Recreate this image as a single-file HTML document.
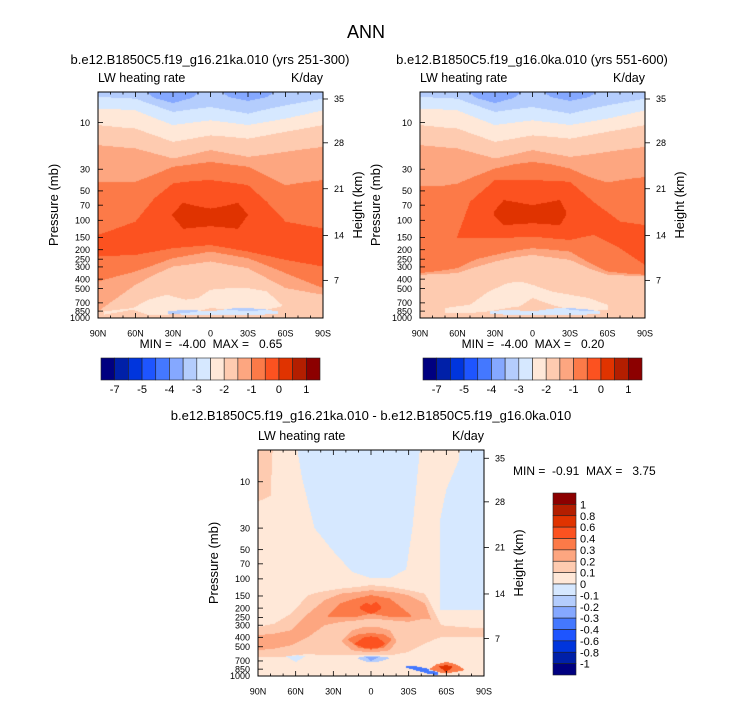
<!DOCTYPE html>
<html><head><meta charset="utf-8">
<style>
html,body{margin:0;padding:0;background:#fff;}
#wrap{position:relative;width:733px;height:701px;overflow:hidden;font-family:"Liberation Sans",Arial,sans-serif;}
canvas{position:absolute;}
svg{position:absolute;left:0;top:0;}
text{font-family:"Liberation Sans",Arial,sans-serif;fill:#000;}
</style></head>
<body>
<div id="wrap">
<canvas id="cTL" width="225" height="226" style="left:98px;top:92px"></canvas>
<canvas id="cTR" width="225" height="226" style="left:420px;top:92px"></canvas>
<canvas id="cB" width="226" height="226" style="left:258px;top:450px"></canvas>
<svg id="ov" width="733" height="701">
<text x="366" y="38" font-size="18" text-anchor="middle">ANN</text>
<text x="210" y="64" font-size="13" text-anchor="middle">b.e12.B1850C5.f19_g16.21ka.010 (yrs 251-300)</text>
<text x="532" y="64" font-size="13" text-anchor="middle">b.e12.B1850C5.f19_g16.0ka.010 (yrs 551-600)</text>
<text x="371" y="420" font-size="13" text-anchor="middle">b.e12.B1850C5.f19_g16.21ka.010 - b.e12.B1850C5.f19_g16.0ka.010</text>
<text x="211" y="348" font-size="12" text-anchor="middle" xml:space="preserve">MIN =  -4.00  MAX =   0.65</text>
<text x="533" y="348" font-size="12" text-anchor="middle" xml:space="preserve">MIN =  -4.00  MAX =   0.20</text>
<text x="513" y="475" font-size="12" xml:space="preserve">MIN =  -0.91  MAX =   3.75</text>
</svg>
</div>
<script>
const PAL = ['#000080','#0020a8','#0035dd','#1e55ff','#4478ff','#85a8ff','#b4cdfd','#d6e8ff','#ffe8d8','#fecbb0','#fda680','#fc7a48','#fc5220','#e03300','#b31e00','#8c0000'];
const latCols = [90,75,60,45,30,15,0,-15,-30,-45,-60,-75,-90];
const pressureTicks = [10,30,50,70,100,150,200,250,300,400,500,700,850,1000];
const heightKm = [35,28,21,14,7];
const heightP = [5.73,16.1,47.5,143,412];
const latTicks = [90,60,30,0,-30,-60,-90];
const latTickLabels = ['90N','60N','30N','0','30S','60S','90S'];
const topBarLabels = ['-7','-5','-4','-3','-2','-1','0','1'];
const topBarLabelIdx = [1,3,5,7,9,11,13,15];
const diffBarLabels = ['1','0.8','0.6','0.4','0.3','0.2','0.1','0','-0.1','-0.2','-0.3','-0.4','-0.6','-0.8','-1'];

// ---- panel 1 (21ka) isolines, pressure (mb) per latCols ----
const aIso56 = [4,4,4,5.6,6.3,5.6,4,5.5,6,5.5,4,4,4];
const aIso67 = [5.47,5.56,5.69,6.65,7.78,7.3,6.92,7.48,8.09,7.3,6.65,6.15,5.69];
const aIso78 = [7.2,7.3,7.48,8.96,10.6,10,9.46,10,10.6,9.84,9.1,8.28,7.48];
const aIso89 = [10.6,11.1,11.5,13.5,15.7,14.6,13.5,14,14.6,13.5,12.4,11.5,10.6];
const aIso910 = [17,17.7,18.4,20.7,23.3,21.2,19.1,20.7,22.4,21.2,19.9,18.7,17.7];
const aIso1011 = [40.3,40.3,40.3,34,28.3,26.8,25.2,26.8,28.3,35,43.6,40.9,38.7];
const aIso1112 = [141,121,103,59.7,41.9,39.7,38.7,40.9,43.6,64.5,103,112,121];
const aLow1211 = [235,230,226,209,193,186,179,193,209,230,254,275,297];
const aLow1110 = [423,375,334,286,244,226,209,226,244,290,347,416,494];
const aLow109 = [855,625,457,361,297,281,264,286,309,391,494,534,578];
const aCoreLats = [31,22,10,0,-10,-22,-30];
const aCoreTop = [88,66,72,76,72,66,88];
const aCoreBot = [88,122,118,115,118,122,88];
const aPeachLats = [85,62,50,35,20,10,0,-15,-30,-45,-57];
const aPeachTop = [855,790,650,578,650,625,514,494,494,534,731];
const aPeachBot = [925,822,925,925,890,855,790,822,855,822,760];
const aBlueLats = [34,20,0,-20,-40,-54];
const aBlueTop = [855,822,855,790,803,855];
const aBlueBot = [910,925,940,940,925,910];

// ---- panel 2 (0ka) ----
const bIso1011 = [45,45,42,35,29.5,26.8,25.2,26.8,29.5,36,41,38,36];
const bArcLats = [60.7,50,30,0,-30,-48.7,-70,-90];
const bArcTop = [153,64.5,38.7,38.7,40.3,64.5,103,112];
const bArcBot = [153,153,153,147,159,141,193,286];
const bCoreLats = [31,23,0,-22,-27];
const bCoreTop = [82,62,70,62,82];
const bCoreBot = [88,112,107,112,88];
const bLow1110 = [347,330,309,250,226,205,193,200,209,270,334,350,361];
const bLow109 = [361,355,347,300,264,240,226,240,254,310,361,368,375];
const bPeachLats = [70,50,35,20,10,0,-15,-30,-45,-60];
const bPeachTop = [790,731,534,439,423,457,534,578,625,731];
const bPeachBot = [890,890,855,790,760,625,731,822,855,822];

// ---- panel 3 (difference) ----
const dUpLeftLats = [90,80,76];
const dUpLeftTop = [1,1,1];
const dUpLeftBot = [16,14,1];
const dMidBlueLats = [59,55,45,30,15,0,-15,-28,-33,-39];
const dMidBlueTop = [1,1,1,1,1,1,1,1,1,1];
const dMidBlueBot = [4.5,9,30,52,85,98,98,80,30,4.5];
const dRightBlueLats = [-55,-60,-70,-75,-90];
const dRightBlueTop = [25,12,6,1,1];
const dRightBlueBot = [209,209,209,209,209];
const d9Lats = [90,77,63.5,50,40,24,10,0,-16,-30,-43,-50,-56,-70,-90];
const d9Top = [312,289,228,147,136,126,121,116,121,131,142,210,300,312,324];
const d9Bot = [637,637,627,588,612,612,612,612,612,565,464,422,396,396,396];
const d10Lats = [90,77,63.5,50,37,24,10,0,-16,-30,-43,-48];
const d10Top = [380,366,338,228,166,142,136,131,136,147,179,263];
const d10Bot = [543,522,483,396,300,277,267,256,267,277,256,263];
const d10bLats = [23,15,5,-5,-15,-20];
const d10bTop = [428,338,312,312,338,428];
const d10bBot = [446,543,565,565,543,446];
const d11Lats = [34,25,12,0,-15,-32];
const d11Top = [237,179,159,147,159,237];
const d11Bot = [246,246,246,228,246,246];
const d11bLats = [18,10,0,-10,-16];
const d11bTop = [412,372,360,372,412];
const d11bBot = [428,510,535,510,428];
const d12Lats = [9,4,0,-4,-8];
const d12Top = [194,176,186,172,194];
const d12Bot = [202,221,228,221,202];
const d12bLats = [13,6,0,-6,-11];
const d12bTop = [464,403,390,403,464];
const d12bBot = [472,510,522,510,472];
const dSfcBlueLats = [10,4,0,-6,-14];
const dSfcBlueTop = [647,622,622,627,647];
const dSfcBlueBot = [667,710,725,710,667];
const dSfcCoreLats = [4,0,-6];
const dSfcCoreTop = [640,635,640];
const dSfcCoreBot = [640,700,640];
const dLbLats = [68,60,52];
const dLbTop = [625,610,625];
const dLbBot = [625,720,625];
const dStreakLats = [-28,-35,-45,-53];
const dStreakTop = [790,790,840,905];
const dStreakBot = [822,871,944,984];
const dRedLats = [-45,-52,-60,-68,-75];
const dRedTop = [871,760,717,760,871];
const dRedBot = [871,905,944,905,871];
const dRedCoreLats = [-54,-60,-65];
const dRedCoreTop = [800,770,800];
const dRedCoreBot = [800,920,800];

const BIG = latCols.map(function(){return 2000;});

function interpLog(lats, vals, lat){
  if (lat > lats[0] || lat < lats[lats.length-1]) return null;
  for (let i=0;i<lats.length-1;i++){
    if (lat <= lats[i] && lat >= lats[i+1]){
      const t = (lats[i]-lat)/((lats[i]-lats[i+1])||1);
      return Math.log10(vals[i])*(1-t) + Math.log10(vals[i+1])*t;
    }
  }
  return null;
}
function paint(id, pTop, base, feats){
  const cv = document.getElementById(id), ctx = cv.getContext('2d');
  const W = cv.width, H = cv.height, img = ctx.createImageData(W,H);
  const lt = Math.log10(pTop), lb = 3;
  const rgb = PAL.map(function(c){return [parseInt(c.substr(1,2),16),parseInt(c.substr(3,2),16),parseInt(c.substr(5,2),16)];});
  for (let x=0;x<W;x++){
    const lat = 90 - (x+0.5)/W*180;
    const spans = [];
    feats.forEach(function(f){
      const a = interpLog(f[0], f[1], lat), b = interpLog(f[0], f[2], lat);
      if (a!==null && b!==null && b>a) spans.push([a,b,f[3]]);
    });
    for (let y=0;y<H;y++){
      const lp = lt + (y+0.5)/H*(lb-lt);
      let lev = base;
      for (const s of spans) if (lp>s[0] && lp<s[1]) lev += s[2];
      lev = Math.max(0, Math.min(15, lev));
      const k = (y*W+x)*4, c = rgb[lev];
      img.data[k]=c[0]; img.data[k+1]=c[1]; img.data[k+2]=c[2]; img.data[k+3]=255;
    }
  }
  ctx.putImageData(img,0,0);
}

paint('cTL', 4.86, 5, [
  [latCols,aIso56,BIG,1],[latCols,aIso67,BIG,1],[latCols,aIso78,BIG,1],[latCols,aIso89,BIG,1],
  [latCols,aIso910,BIG,1],[latCols,aIso1011,BIG,1],[latCols,aIso1112,BIG,1],
  [aCoreLats,aCoreTop,aCoreBot,1],
  [latCols,aLow1211,BIG,-1],[latCols,aLow1110,BIG,-1],[latCols,aLow109,BIG,-1],
  [aPeachLats,aPeachTop,aPeachBot,-1],[aBlueLats,aBlueTop,aBlueBot,-2]
]);
paint('cTR', 4.86, 5, [
  [latCols,aIso56,BIG,1],[latCols,aIso67,BIG,1],[latCols,aIso78,BIG,1],[latCols,aIso89,BIG,1],
  [latCols,aIso910,BIG,1],[latCols,bIso1011,BIG,1],
  [bArcLats,bArcTop,bArcBot,1],[bCoreLats,bCoreTop,bCoreBot,1],
  [latCols,bLow1110,BIG,-1],[latCols,bLow109,BIG,-1],
  [bPeachLats,bPeachTop,bPeachBot,-1],[aBlueLats,aBlueTop,aBlueBot,-2]
]);
paint('cB', 4.71, 8, [
  [dUpLeftLats,dUpLeftTop,dUpLeftBot,1],[dMidBlueLats,dMidBlueTop,dMidBlueBot,-1],
  [dRightBlueLats,dRightBlueTop,dRightBlueBot,-1],
  [d9Lats,d9Top,d9Bot,1],[d10Lats,d10Top,d10Bot,1],[d10bLats,d10bTop,d10bBot,1],
  [d11Lats,d11Top,d11Bot,1],[d11bLats,d11bTop,d11bBot,1],
  [d12Lats,d12Top,d12Bot,1],[d12bLats,d12bTop,d12bBot,1],
  [dSfcBlueLats,dSfcBlueTop,dSfcBlueBot,-2],[dSfcCoreLats,dSfcCoreTop,dSfcCoreBot,-1],
  [dLbLats,dLbTop,dLbBot,-1],[dStreakLats,dStreakTop,dStreakBot,-4],
  [dRedLats,dRedTop,dRedBot,3],[dRedCoreLats,dRedCoreTop,dRedCoreBot,2]
]);

const NS = 'http://www.w3.org/2000/svg';
const ov = document.getElementById('ov');
function mk(tag, attrs, txt){
  const e = document.createElementNS(NS, tag);
  for (const k in attrs) e.setAttribute(k, attrs[k]);
  if (txt!==undefined) e.textContent = txt;
  ov.appendChild(e);
  return e;
}
function axes(x0, y0, w, h, pTop, tag){
  const lt = Math.log10(pTop);
  const yP = function(p){return y0 + h*(Math.log10(p)-lt)/(3-lt);};
  const xL = function(l){return x0 + (90-l)/180*w;};
  const fr = mk('rect', {x:x0, y:y0, width:w, height:h, fill:'none', stroke:'#000', 'stroke-width':1});
  
  
  for (let l=90;l>=-90;l-=10){
    const len = (l%30===0)?5:2.5;
    const t1 = mk('line', {x1:xL(l), y1:y0+h, x2:xL(l), y2:y0+h-len, stroke:'#000', 'stroke-width':0.8});
    
    
    const t2 = mk('line', {x1:xL(l), y1:y0, x2:xL(l), y2:y0+len, stroke:'#000', 'stroke-width':0.8});
    
    
  }
  latTicks.forEach(function(l,i){
    const t = mk('text', {x:xL(l), y:y0+h+18.5, 'font-size':9, 'text-anchor':'middle'}, latTickLabels[i]);
    
    
  });
  pressureTicks.forEach(function(p){
    const y = yP(p);
    const tk = mk('line', {x1:x0, y1:y, x2:x0+5, y2:y, stroke:'#000', 'stroke-width':0.8});
    
    
    const t = mk('text', {x:x0-8, y:y+3.2, 'font-size':9, 'text-anchor':'end'}, String(p));
    
    
  });
  heightKm.forEach(function(km,i){
    const y = yP(heightP[i]);
    const tk = mk('line', {x1:x0+w, y1:y, x2:x0+w+5, y2:y, stroke:'#000', 'stroke-width':0.8});
    
    
    const t = mk('text', {x:x0+w+11, y:y+3.2, 'font-size':9}, String(km));
    
    
  });
  const yc = y0 + h/2;
  const ya = mk('text', {x:0, y:0, 'font-size':13, 'text-anchor':'middle', transform:'translate('+(x0-40)+','+(yc)+') rotate(-90)'}, 'Pressure (mb)');
  
  
  const ha = mk('text', {x:0, y:0, 'font-size':13, 'text-anchor':'middle', transform:'translate('+(x0+w+39)+','+(yc)+') rotate(-90)'}, 'Height (km)');
  
  
  const lw = mk('text', {x:x0, y:y0-10, 'font-size':12.5}, 'LW heating rate');
  
  
  const un = mk('text', {x:x0+w, y:y0-10, 'font-size':12.5, 'text-anchor':'end'}, 'K/day');
  
  
}
axes(98, 92, 225, 226, 4.86, 'panel-21ka');
axes(420, 92, 225, 226, 4.86, 'panel-0ka');
axes(258, 450, 226, 226, 4.71, 'panel-diff');

function hbar(x0, tag){
  const bw = 219/16;
  for (let i=0;i<16;i++){
    const r = mk('rect', {x:x0+i*bw, y:358, width:bw, height:22, fill:PAL[i], stroke:'#222', 'stroke-width':0.6});
    
    
  }
  topBarLabels.forEach(function(s,i){
    const t = mk('text', {x:x0+topBarLabelIdx[i]*bw, y:393, 'font-size':11, 'text-anchor':'middle'}, s);
    
    
  });
}
hbar(101, 'panel-21ka');
hbar(423, 'panel-0ka');
(function(){
  const bh = 182/16;
  for (let i=0;i<16;i++){
    const r = mk('rect', {x:553, y:493+i*bh, width:23, height:bh, fill:PAL[15-i], stroke:'#222', 'stroke-width':0.6});
    
    
  }
  diffBarLabels.forEach(function(s,i){
    const t = mk('text', {x:580, y:493+(i+1)*bh+4, 'font-size':11}, s);
    
    
  });
})();
</script>
</body></html>
